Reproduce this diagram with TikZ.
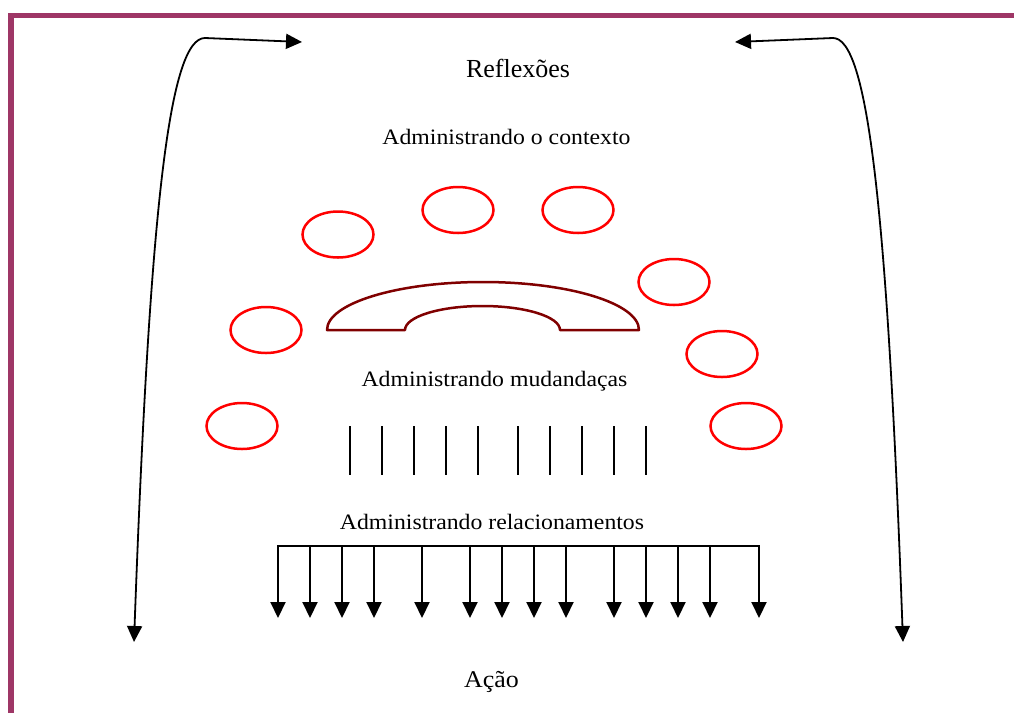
\documentclass[tikz,border=0pt]{standalone}
\usepackage{fontspec}
\setmainfont{Liberation Serif}[FakeStretch=1.08]
\newfontfamily\titlefont{Liberation Serif}
\usetikzlibrary{arrows.meta,shapes.geometric}
\definecolor{frame}{RGB}{158,54,102}
\definecolor{phone}{RGB}{128,0,0}
\definecolor{ovalred}{RGB}{255,0,0}
\tikzset{
  lbl/.style={anchor=base,inner sep=0pt,font=\fontsize{22}{26}\selectfont},
  oval/.style={draw=ovalred,line width=2.5pt,ellipse,minimum width=71pt,minimum height=46pt,inner sep=0pt},
  curvearrow/.style={line width=1.8pt,{Triangle[length=16pt,width=15pt]}-{Triangle[length=16pt,width=15pt]}},
  droparrow/.style={line width=2pt,-{Triangle[length=16pt,width=15pt]}},
  vbar/.style={line width=2pt},
}
\begin{document}
\begin{tikzpicture}[x=1pt,y=-1pt]
\useasboundingbox (0,0) rectangle (1014,713);
% frame
\coordinate (ftl) at (8,15.5);
\coordinate (ftr) at (1014,15.5);
\coordinate (fl) at (11,13);
\coordinate (fb) at (11,713);
\draw[frame,line width=5.5pt] (ftl) -- (ftr);
\draw[frame,line width=6pt] (fl) -- (fb);
% texts
\node[lbl,font=\titlefont\fontsize{26}{30}\selectfont] (refl) at (518,77) {Reflexões};
\node[lbl] (ctx) at (506.5,144.3) {Administrando o contexto};
\node[lbl] (mud) at (494.5,386) {Administrando mudandaças};
\node[lbl] (rel) at (492,529) {Administrando relacionamentos};
\node[lbl,font=\fontsize{24}{28}\selectfont] (acao) at (491.5,687.5) {Ação};
% ovals
\node[oval] (o1) at (338,234.5) {};
\node[oval] (o2) at (458,210) {};
\node[oval] (o3) at (578,210) {};
\node[oval] (o4) at (674,282) {};
\node[oval] (o5) at (266,330) {};
\node[oval] (o6) at (722,354) {};
\node[oval] (o7) at (242,426) {};
\node[oval] (o8) at (746,426) {};
% phone-like shape
\draw[phone,line width=2.5pt,line join=round]
  (327,330) arc[start angle=180,end angle=360,x radius=156,y radius=48]
  -- (560,330) arc[start angle=360,end angle=180,x radius=77.5,y radius=24]
  -- cycle;
% vertical bars
\foreach \i/\x in {1/350,2/382,3/414,4/446,5/478,6/518,7/550,8/582,9/614,10/646}{
  \coordinate (vt\i) at (\x,426);
  \coordinate (vb\i) at (\x,475);
  \draw[vbar] (vt\i) -- (vb\i);
}
% bracket with drops
\coordinate (bl) at (278,546);
\coordinate (br) at (759,546);
\draw[vbar] (bl) -- (br);
\foreach \i/\x in {1/278,2/310,3/342,4/374,5/422,6/470,7/502,8/534,9/566,10/614,11/646,12/678,13/710,14/759}{
  \coordinate (dt\i) at (\x,545);
  \coordinate (db\i) at (\x,618);
  \draw[droparrow] (dt\i) -- (db\i);
}
% curved double arrows
\coordinate (lb) at (134,642);
\coordinate (lt) at (302,42);
\coordinate (rb) at (903,642);
\coordinate (rt) at (735,42);
\draw[curvearrow] (lb) .. controls (150,200) and (170,38) .. (205,38) -- (lt);
\draw[curvearrow] (rb) .. controls (887,200) and (867,38) .. (833,38) -- (rt);
\end{tikzpicture}
\end{document}
